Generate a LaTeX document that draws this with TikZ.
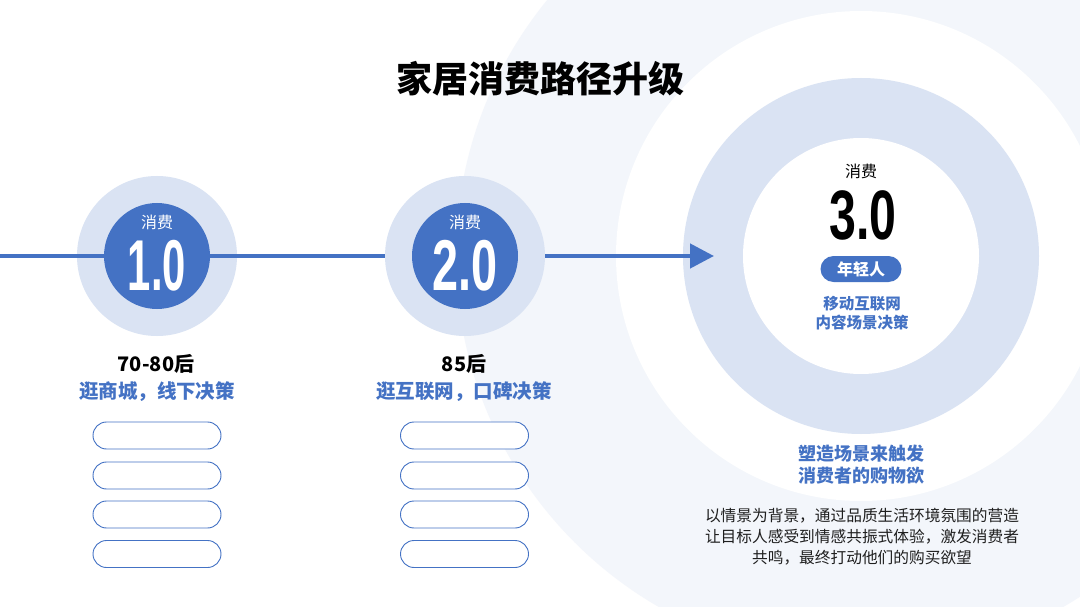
\documentclass[tikz,border=0pt]{standalone}
\usepackage{fontspec}
\usepackage{graphicx}
\setmainfont{Noto Sans CJK SC}
\newfontfamily\numfont{Liberation Sans}
\usetikzlibrary{arrows.meta}
\definecolor{mainblue}{HTML}{4472C4}
\definecolor{ringblue}{HTML}{DAE3F3}
\definecolor{paleblue}{HTML}{F3F6FB}
\definecolor{bodytext}{HTML}{1F1F1F}
\tikzset{
  outerdisc/.style={circle, fill=ringblue, minimum size=160pt, inner sep=0pt},
  innerdisc/.style={circle, fill=mainblue, minimum size=106pt, inner sep=0pt},
  flowline/.style={draw=mainblue, line width=4.5pt},
  pillbox/.style={draw=mainblue, line width=0.9pt, fill=white, rounded corners=13.5pt,
    minimum width=128pt, minimum height=27pt, inner sep=0pt},
  consume/.style={font=\fontsize{16}{18}\selectfont, inner sep=0pt},
  bignum/.style={font=\numfont\bfseries\fontsize{72}{72}\selectfont, inner sep=0pt},
  agelabel/.style={font=\bfseries\fontsize{20}{22}\selectfont, text=black, inner sep=0pt},
  bluelabel/.style={font=\bfseries\fontsize{19.5}{22}\selectfont, text=mainblue, inner sep=0pt},
}
\begin{document}
\begin{tikzpicture}[x=1pt,y=-1pt]
  \useasboundingbox (0,0) rectangle (1080,607);
  \clip (0,0) rectangle (1080,607);
  \fill[white] (0,0) rectangle (1080,607);
  % background discs on the right
  \fill[paleblue] (861,256) circle (405pt);
  \fill[white] (861,256) circle (245pt);
  \fill[ringblue] (861,256) circle (178pt);
  \fill[white] (861,256) circle (118pt);

  % title
  \node[font=\bfseries\fontsize{36}{40}\selectfont, inner sep=0pt] (title) at (540,79) {家居消费路径升级};

  % stage 1 and 2 discs
  \node[outerdisc] (c1o) at (157,256) {};
  \coordinate (lstart) at (0,256);
  \coordinate (tip) at (714,256);
  \node[innerdisc] (c1) at (157,256) {};
  \draw[flowline] (lstart) -- (c1);
  \draw[flowline] (c1) -- (465,256);
  \node[outerdisc] (c2o) at (465,256) {};
  \node[innerdisc] (c2) at (465,256) {};
  \draw[flowline, -{Triangle[length=24pt,width=24pt]}] (c2o) -- (tip);

  \node[consume, text=white] (c1t) at (157,222) {消费};
  \node[bignum, text=white] (c1n) at (157,266) {\scalebox{0.58}[1]{1.0}};
  \node[consume, text=white] (c2t) at (465,222) {消费};
  \node[bignum, text=white] (c2n) at (465,266) {\scalebox{0.65}[1]{2.0}};

  % stage labels
  \node[agelabel] (a1) at (156,364) {70-80后};
  \node[bluelabel] (b1) at (157,392) {逛商城，线下决策};
  \node[agelabel] (a2) at (464,364) {85后};
  \node[bluelabel] (b2) at (464,392) {逛互联网，口碑决策};

  % empty pills
  \node[pillbox] (p11) at (157,435.5) {};
  \node[pillbox] (p12) at (157,475.5) {};
  \node[pillbox] (p13) at (157,514.5) {};
  \node[pillbox] (p14) at (157,554) {};
  \node[pillbox] (p21) at (464.5,435.5) {};
  \node[pillbox] (p22) at (464.5,475.5) {};
  \node[pillbox] (p23) at (464.5,514.5) {};
  \node[pillbox] (p24) at (464.5,554) {};

  % stage 3
  \node[consume, text=black] (c3t) at (861,171) {消费};
  \node[bignum, text=black, font=\numfont\bfseries\fontsize{70}{70}\selectfont] (c3n) at (863,215) {\scalebox{0.69}[1]{3.0}};
  \node[fill=mainblue, rounded corners=13pt, minimum width=81pt, minimum height=26pt, inner sep=0pt,
        text=white, font=\bfseries\fontsize{16}{18}\selectfont] (young) at (861,269) {年轻人};
  \node[align=center, text=mainblue, font=\bfseries\fontsize{15.5}{19}\selectfont, inner sep=0pt] (c3d) at (862,313) {移动互联网\\内容场景决策};

  \node[align=center, text=mainblue, font=\bfseries\fontsize{18}{22}\selectfont, inner sep=0pt] (scene) at (861,465) {塑造场景来触发\\消费者的购物欲};
  \node[align=center, text=bodytext, font=\fontsize{15.7}{21}\selectfont, inner sep=0pt] (para) at (862,537)
    {以情景为背景，通过品质生活环境氛围的营造\\让目标人感受到情感共振式体验，激发消费者\\共鸣，最终打动他们的购买欲望};
\end{tikzpicture}
\end{document}
